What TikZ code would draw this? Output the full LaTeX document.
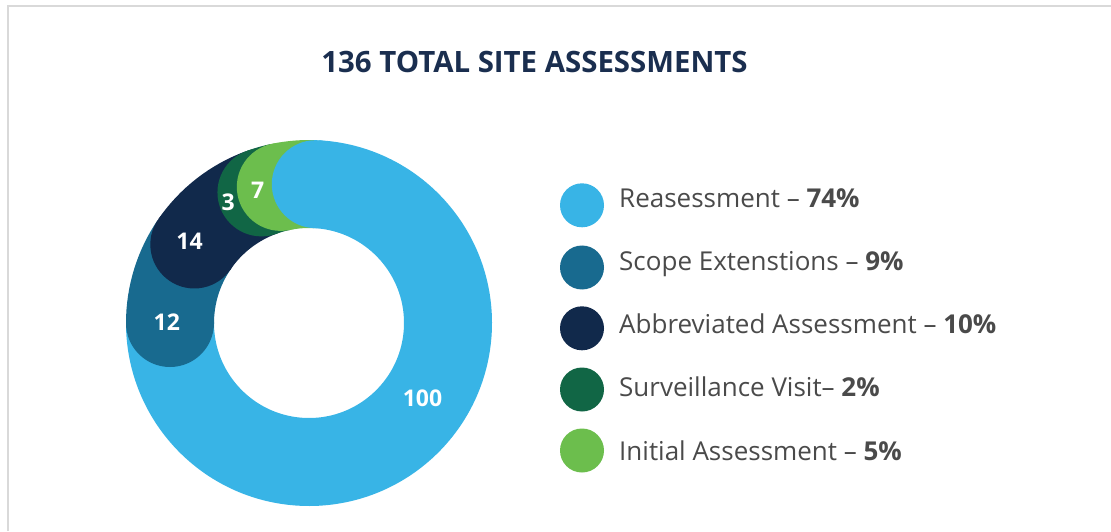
\documentclass[tikz,border=0pt]{standalone}
\usepackage{fontspec}
\setmainfont{Open Sans}
\definecolor{cReas}{HTML}{38B4E6}
\definecolor{cScope}{HTML}{186A8F}
\definecolor{cAbbr}{HTML}{11294B}
\definecolor{cSurv}{HTML}{116645}
\definecolor{cInit}{HTML}{6CBE4D}
\definecolor{cText}{HTML}{4A4A4A}
\definecolor{cTitle}{HTML}{1A2E4F}
\definecolor{cBorder}{HTML}{D9D9D9}
\begin{document}
\begin{tikzpicture}[x=1pt,y=1pt,
  seg/.style={line width=88pt},
  legdot/.style={circle, minimum size=44pt, inner sep=0pt},
  legtext/.style={anchor=base west, inner sep=0pt, font=\fontsize{26}{30}\selectfont, text=cText},
  val/.style={inner sep=0pt, font=\fontsize{23}{27}\selectfont\bfseries, text=white}]
\useasboundingbox (0,0) rectangle (1111,531);
\draw[line width=1.7pt, cBorder] (7.8,0) -- (7.8,525.2) -- (1111,525.2);
\node[inner sep=0pt, font=\fontsize{29.4}{34}\selectfont\bfseries, text=cTitle] (title) at (534.5,469) {136 TOTAL SITE ASSESSMENTS};
\coordinate (c) at (309,208);
% Reassessment body
\draw[seg, cReas] (c) ++(87.2:139pt) arc[start angle=87.2, end angle=-180, radius=139pt];
% Scope Extensions
\fill[cScope] (c) ++(180:139pt) circle[radius=44pt];
\draw[seg, cScope] (c) ++(180:139pt) arc[start angle=180, end angle=145.6, radius=139pt];
% Abbreviated
\fill[cAbbr] (c) ++(145.6:139pt) circle[radius=44pt];
\draw[seg, cAbbr] (c) ++(145.6:139pt) arc[start angle=145.6, end angle=110, radius=139pt];
% Surveillance
\fill[cSurv] (c) ++(110:139pt) circle[radius=44pt];
\draw[seg, cSurv] (c) ++(110:139pt) arc[start angle=110, end angle=101.7, radius=139pt];
% Initial
\fill[cInit] (c) ++(101.7:139pt) circle[radius=44pt];
\draw[seg, cInit] (c) ++(101.7:139pt) arc[start angle=101.7, end angle=87.2, radius=139pt];
% Reassessment head
\fill[cReas] (c) ++(87.2:139pt) circle[radius=44pt];
% values
\node[val] (v100) at (422.5,133) {100};
\node[val] (v12) at (166.8,209) {12};
\node[val] (v14) at (189.5,289.7) {14};
\node[val] (v3) at (228.3,328.7) {3};
\node[val] (v7) at (257.8,340.7) {7};
% legend
\node[legdot, fill=cReas] (d1) at (582,325.7) {};
\node[legdot, fill=cScope] (d2) at (582,263.5) {};
\node[legdot, fill=cAbbr] (d3) at (582,202.7) {};
\node[legdot, fill=cSurv] (d4) at (582,141.5) {};
\node[legdot, fill=cInit] (d5) at (582,80.5) {};
\node[legtext] (t1) at (619,323.7) {Reasessment – \textbf{74\%}};
\node[legtext] (t2) at (619,260.5) {Scope Extenstions – \textbf{9\%}};
\node[legtext] (t3) at (619,197.3) {Abbreviated Assessment – \textbf{10\%}};
\node[legtext] (t4) at (619,134.1) {Surveillance Visit– \textbf{2\%}};
\node[legtext] (t5) at (619,70.9) {Initial Assessment – \textbf{5\%}};
\end{tikzpicture}
\end{document}
